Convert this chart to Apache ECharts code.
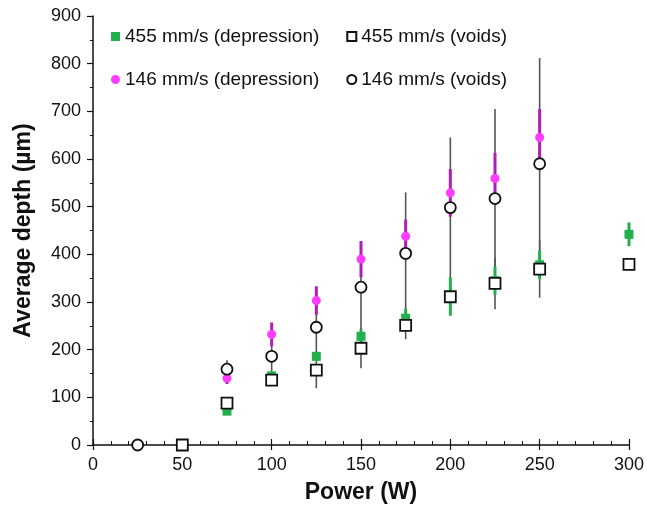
<!DOCTYPE html>
<html>
<head>
<meta charset="utf-8">
<script src="https://cdn.jsdelivr.net/npm/echarts@6/dist/echarts.min.js"></script>
<style>
  html, body { margin: 0; padding: 0; background: #fff; }
  #chart { width: 647px; height: 509px; }
</style>
</head>
<body>
<div id="chart"></div>
<script>
// 455 mm/s, keyhole depression depth
const dep455X = [75, 100, 125, 150, 175, 200, 225, 250, 300];
const dep455Y = [71, 145, 186, 228, 266, 312, 345, 378, 442];
const dep455Err = [0, 8, 10, 15, 20, 40, 30, 30, 25];

// 455 mm/s, void depth
const voids455X = [50, 75, 100, 125, 150, 175, 200, 225, 250, 300];
const voids455Y = [0, 88, 136, 157, 203, 251, 311, 339, 369, 379];
const voids455Err = [0, 0, 12, 38, 42, 29, 40, 54, 60, 0];

// 146 mm/s, keyhole depression depth
const dep146X = [75, 100, 125, 150, 175, 200, 225, 250];
const dep146Y = [140, 232, 303, 390, 438, 529, 559, 645];
const dep146Err = [12, 25, 30, 38, 35, 50, 54, 60];

// 146 mm/s, void depth
const voids146X = [25, 75, 100, 125, 150, 175, 200, 225, 250];
const voids146Y = [0, 159, 186, 247, 331, 402, 498, 517, 590];
const voids146Err = [0, 19, 45, 60, 95, 128, 147, 188, 222];

const GREEN = '#22b04f';
const MAGENTA = '#ff3cff';
const FONT = 'Liberation Sans, Arial, sans-serif';

const points = (xs, ys) => xs.map((x, i) => [x, ys[i]]);
const bars = (xs, ys, es) => xs
  .map((x, i) => [x, ys[i] - es[i], ys[i] + es[i]])
  .filter(d => d[2] > d[1]);

function errorSeries(data, color, width, z) {
  return {
    type: 'custom',
    data: data,
    z: z,
    silent: true,
    encode: { x: 0, y: [1, 2] },
    renderItem: (params, api) => {
      const x = api.value(0);
      const p1 = api.coord([x, api.value(1)]);
      const p2 = api.coord([x, api.value(2)]);
      return {
        type: 'line',
        shape: { x1: p1[0], y1: p1[1], x2: p2[0], y2: p2[1] },
        style: { stroke: color, lineWidth: width }
      };
    }
  };
}

const myChart = echarts.init(document.getElementById('chart'));

const legendText = { fontSize: 19, color: '#111', fontFamily: FONT };

const option = {
  animation: false,
  textStyle: { fontFamily: FONT },
  grid: { left: 93, right: 17, top: 16, bottom: 63 },
  legend: [
    {
      data: ['455 mm/s (depression)', '455 mm/s (voids)'],
      left: 106, top: 22, itemWidth: 9, itemHeight: 9, itemGap: 27,
      textStyle: legendText
    },
    {
      data: ['146 mm/s (depression)', '146 mm/s (voids)'],
      left: 106, top: 65, itemWidth: 9, itemHeight: 9, itemGap: 27,
      textStyle: legendText
    }
  ],
  xAxis: [
    {
      type: 'value', min: 0, max: 300, interval: 50,
      name: 'Power (W)', nameLocation: 'middle', nameGap: 36,
      nameTextStyle: { fontSize: 23, fontWeight: 'bold', color: '#111' },
      axisLine: { lineStyle: { color: '#111', width: 1.5 } },
      axisTick: { inside: true, length: 6, lineStyle: { color: '#111', width: 1.2 } },
      minorTick: { show: true, splitNumber: 5, length: 4, lineStyle: { color: '#111' } },
      axisLabel: { fontSize: 18, color: '#111', margin: 11 },
      splitLine: { show: false }
    },
    {
      type: 'value', min: 0, max: 300, interval: 50, position: 'bottom',
      axisLine: { show: false },
      axisTick: { inside: false, length: 5, lineStyle: { color: '#111', width: 1.2 } },
      axisLabel: { show: false },
      splitLine: { show: false }
    }
  ],
  yAxis: {
    type: 'value', min: 0, max: 900, interval: 100,
    name: 'Average depth (\u00b5m)', nameLocation: 'middle', nameGap: 58,
    nameTextStyle: { fontSize: 23, fontWeight: 'bold', color: '#111' },
    axisLine: { show: true, lineStyle: { color: '#111', width: 1.5 } },
    axisTick: { show: true, length: 6, lineStyle: { color: '#111', width: 1.2 } },
    minorTick: { show: true, splitNumber: 2, length: 3, lineStyle: { color: '#111' } },
    axisLabel: { fontSize: 18, color: '#111', margin: 12 },
    splitLine: { show: false }
  },
  series: [
    errorSeries(bars(voids146X, voids146Y, voids146Err), '#555', 1.6, 1),
    errorSeries(bars(voids455X, voids455Y, voids455Err), '#555', 1.6, 2),
    errorSeries(bars(dep455X, dep455Y, dep455Err), GREEN, 3, 3),
    errorSeries(bars(dep146X, dep146Y, dep146Err), '#b21cb8', 3, 4),
    {
      name: '455 mm/s (depression)', type: 'scatter', z: 5,
      data: points(dep455X, dep455Y),
      symbol: 'rect', symbolSize: 9,
      itemStyle: { color: GREEN, opacity: 1 }
    },
    {
      name: '455 mm/s (voids)', type: 'scatter', z: 6,
      data: points(voids455X, voids455Y),
      symbol: 'rect', symbolSize: 11,
      itemStyle: { color: '#fff', borderColor: '#111', borderWidth: 1.8, opacity: 1 }
    },
    {
      name: '146 mm/s (depression)', type: 'scatter', z: 7,
      data: points(dep146X, dep146Y),
      symbol: 'circle', symbolSize: 9,
      itemStyle: { color: MAGENTA, opacity: 1 }
    },
    {
      name: '146 mm/s (voids)', type: 'scatter', z: 8,
      data: points(voids146X, voids146Y),
      symbol: 'circle', symbolSize: 11,
      itemStyle: { color: '#fff', borderColor: '#111', borderWidth: 1.8, opacity: 1 }
    }
  ]
};

myChart.setOption(option);
</script>
</body>
</html>
